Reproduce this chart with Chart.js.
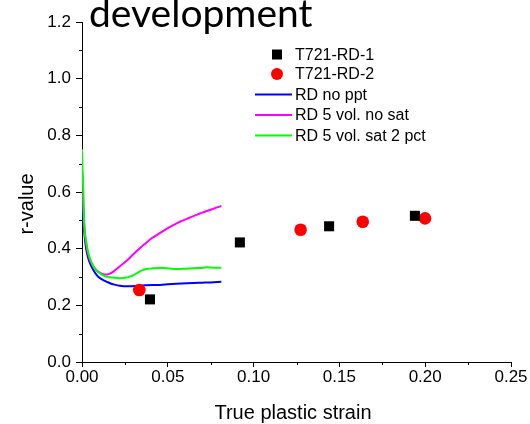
<!DOCTYPE html>
<html>
<head>
<meta charset="utf-8">
<script src="https://cdn.jsdelivr.net/npm/chart.js@4.4.1/dist/chart.umd.min.js"></script>
<style>
html,body{margin:0;padding:0;background:#fff;}
#wrap{position:relative;width:530px;height:424px;}
</style>
</head>
<body>
<div id="wrap"><canvas id="c" width="530" height="424"></canvas></div>
<script>
// ---- data ----
const titleText = "development";
const xAxisTitle = "True plastic strain";
const yAxisTitle = "r-value";
const xTicks = [0, 0.05, 0.10, 0.15, 0.20, 0.25];
const yTicks = [0, 0.2, 0.4, 0.6, 0.8, 1.0, 1.2];

const rd1Label = "T721-RD-1";
const rd1X = [0.0396, 0.092, 0.144, 0.194];
const rd1Y = [0.221, 0.422, 0.479, 0.516];

const rd2Label = "T721-RD-2";
const rd2X = [0.0334, 0.1274, 0.1636, 0.1999];
const rd2Y = [0.254, 0.467, 0.495, 0.507];

const noPptLabel = "RD no ppt";
const noPptX = [0, 0.0003, 0.0008, 0.0012, 0.0023, 0.0035, 0.0047, 0.0066, 0.0086, 0.0105, 0.0124, 0.0145, 0.0163, 0.0190, 0.0221, 0.026, 0.030, 0.035, 0.0416, 0.0455, 0.050, 0.055, 0.061, 0.065, 0.070, 0.075, 0.0812];
const noPptY = [0.56, 0.52, 0.49, 0.465, 0.405, 0.37, 0.348, 0.325, 0.307, 0.296, 0.289, 0.283, 0.278, 0.273, 0.269, 0.267, 0.268, 0.270, 0.272, 0.272, 0.274, 0.276, 0.278, 0.279, 0.280, 0.281, 0.283];

const noSatLabel = "RD 5 vol. no sat";
const noSatX = [0, 0.0003, 0.0008, 0.0015, 0.0023, 0.0043, 0.0066, 0.0086, 0.0105, 0.0124, 0.0145, 0.0163, 0.0183, 0.0205, 0.0221, 0.026, 0.0299, 0.0338, 0.0377, 0.0400, 0.0425, 0.0455, 0.0493, 0.0532, 0.0571, 0.061, 0.0649, 0.0688, 0.0727, 0.0766, 0.0812];
const noSatY = [0.70, 0.62, 0.55, 0.47, 0.42, 0.365, 0.338, 0.323, 0.315, 0.310, 0.309, 0.312, 0.319, 0.330, 0.338, 0.357, 0.380, 0.402, 0.422, 0.434, 0.444, 0.456, 0.470, 0.483, 0.495, 0.505, 0.515, 0.524, 0.533, 0.541, 0.551];

const sat2Label = "RD 5 vol. sat 2 pct";
const sat2X = [0, 0.0002, 0.0008, 0.0012, 0.0023, 0.0043, 0.0066, 0.0085, 0.0105, 0.0124, 0.0145, 0.0163, 0.0190, 0.0221, 0.026, 0.028, 0.030, 0.0319, 0.0338, 0.0357, 0.0377, 0.0416, 0.0455, 0.0474, 0.051, 0.0552, 0.060, 0.0649, 0.069, 0.0727, 0.077, 0.0812];
const sat2Y = [0.751, 0.70, 0.607, 0.50, 0.43, 0.372, 0.338, 0.322, 0.313, 0.306, 0.301, 0.299, 0.297, 0.296, 0.298, 0.302, 0.306, 0.313, 0.320, 0.325, 0.328, 0.331, 0.332, 0.332, 0.330, 0.328, 0.329, 0.331, 0.332, 0.334, 0.333, 0.333];

const zip = (xs, ys) => xs.map((x, i) => ({x: x, y: ys[i]}));
const FONT = "'Liberation Sans', Arial, sans-serif";

const overlay = {
  id: 'overlay',
  afterDraw(chart) {
    const ctx = chart.ctx;
    const xs = chart.scales.x, ys = chart.scales.y;
    ctx.save();
    // minor ticks
    ctx.strokeStyle = '#000';
    ctx.lineWidth = 1;
    ctx.beginPath();
    for (let v = 0.1; v < 1.2; v += 0.2) {
      const py = Math.round(ys.getPixelForValue(v)) + 0.5;
      ctx.moveTo(xs.left - 3, py); ctx.lineTo(xs.left, py);
    }
    for (let v = 0.025; v < 0.25; v += 0.05) {
      const px = Math.round(xs.getPixelForValue(v)) + 0.5;
      ctx.moveTo(px, ys.bottom); ctx.lineTo(px, ys.bottom + 3);
    }
    ctx.stroke();
    // title
    ctx.fillStyle = '#000';
    ctx.font = "39px Lato, 'Open Sans', sans-serif";
    ctx.textBaseline = 'alphabetic';
    ctx.textAlign = 'left';
    ctx.fillText(titleText, 89, 27);
    // axis titles
    ctx.font = "20px " + FONT;
    ctx.textAlign = 'center';
    ctx.textBaseline = 'alphabetic';
    ctx.fillText(xAxisTitle, 293, 419);
    ctx.save();
    ctx.translate(33, 204);
    ctx.rotate(-Math.PI / 2);
    ctx.fillText(yAxisTitle, 0, 0);
    ctx.restore();
    // legend
    const rows = [54.5, 74, 94.5, 115, 135.5];
    const ds = chart.data.datasets;
    const order = [0, 1, 2, 3, 4];
    ctx.font = "16px " + FONT;
    ctx.textAlign = 'left';
    ctx.textBaseline = 'middle';
    order.forEach((di, r) => {
      const d = ds[di];
      const y = rows[r];
      if (d.showLine) {
        ctx.strokeStyle = d.borderColor;
        ctx.lineWidth = d.borderWidth;
        ctx.beginPath();
        ctx.moveTo(255, y); ctx.lineTo(292, y);
        ctx.stroke();
      } else if (d.pointStyle === 'rect') {
        ctx.fillStyle = d.backgroundColor;
        ctx.fillRect(272, y - 5, 10, 10);
      } else {
        ctx.fillStyle = d.backgroundColor;
        ctx.beginPath();
        ctx.arc(277, y, 6, 0, Math.PI * 2);
        ctx.fill();
      }
      ctx.fillStyle = '#000';
      ctx.fillText(d.label, 295, y + 1);
    });
    ctx.restore();
  }
};

new Chart(document.getElementById('c'), {
  type: 'scatter',
  data: {
    datasets: [
      {label: rd1Label, data: zip(rd1X, rd1Y), pointStyle: 'rect', pointRadius: 7.1, pointHoverRadius: 7.1,
       backgroundColor: '#000000', borderColor: '#000000', borderWidth: 0, showLine: false, order: 0},
      {label: rd2Label, data: zip(rd2X, rd2Y), pointStyle: 'circle', pointRadius: 6.3, pointHoverRadius: 6.3,
       backgroundColor: '#ff0000', borderColor: '#ff0000', borderWidth: 0, showLine: false, order: 0},
      {label: noPptLabel, data: zip(noPptX, noPptY), showLine: true, pointRadius: 0, borderColor: '#0000ff',
       backgroundColor: '#0000ff', borderWidth: 2, cubicInterpolationMode: 'monotone', order: 3},
      {label: noSatLabel, data: zip(noSatX, noSatY), showLine: true, pointRadius: 0, borderColor: '#ff00ff',
       backgroundColor: '#ff00ff', borderWidth: 2, cubicInterpolationMode: 'monotone', order: 2},
      {label: sat2Label, data: zip(sat2X, sat2Y), showLine: true, pointRadius: 0, borderColor: '#00ff00',
       backgroundColor: '#00ff00', borderWidth: 2, cubicInterpolationMode: 'monotone', order: 1}
    ]
  },
  options: {
    responsive: false,
    animation: false,
    events: [],
    layout: {padding: {left: 0, top: 22, right: 19, bottom: 0}},
    plugins: {legend: {display: false}, title: {display: false}, tooltip: {enabled: false}},
    scales: {
      x: {
        type: 'linear', min: 0, max: 0.25,
        afterFit(s) { s.height = 62; },
        afterBuildTicks(s) { s.ticks = xTicks.map(v => ({value: v})); },
        border: {display: true, color: '#000', width: 1},
        grid: {display: true, drawOnChartArea: false, drawTicks: true, tickLength: 5, tickColor: '#000', tickWidth: 1},
        ticks: {color: '#000', font: {family: FONT, size: 17}, padding: 0, maxRotation: 0,
                callback: v => Number(v).toFixed(2)}
      },
      y: {
        type: 'linear', min: 0, max: 1.2,
        afterFit(s) { s.width = 82; },
        afterBuildTicks(s) { s.ticks = yTicks.map(v => ({value: v})); },
        border: {display: true, color: '#000', width: 1},
        grid: {display: true, drawOnChartArea: false, drawTicks: true, tickLength: 6, tickColor: '#000', tickWidth: 1},
        ticks: {color: '#000', font: {family: FONT, size: 17}, padding: 5,
                callback: v => Number(v).toFixed(1)}
      }
    }
  },
  plugins: [overlay]
});
</script>
</body>
</html>
